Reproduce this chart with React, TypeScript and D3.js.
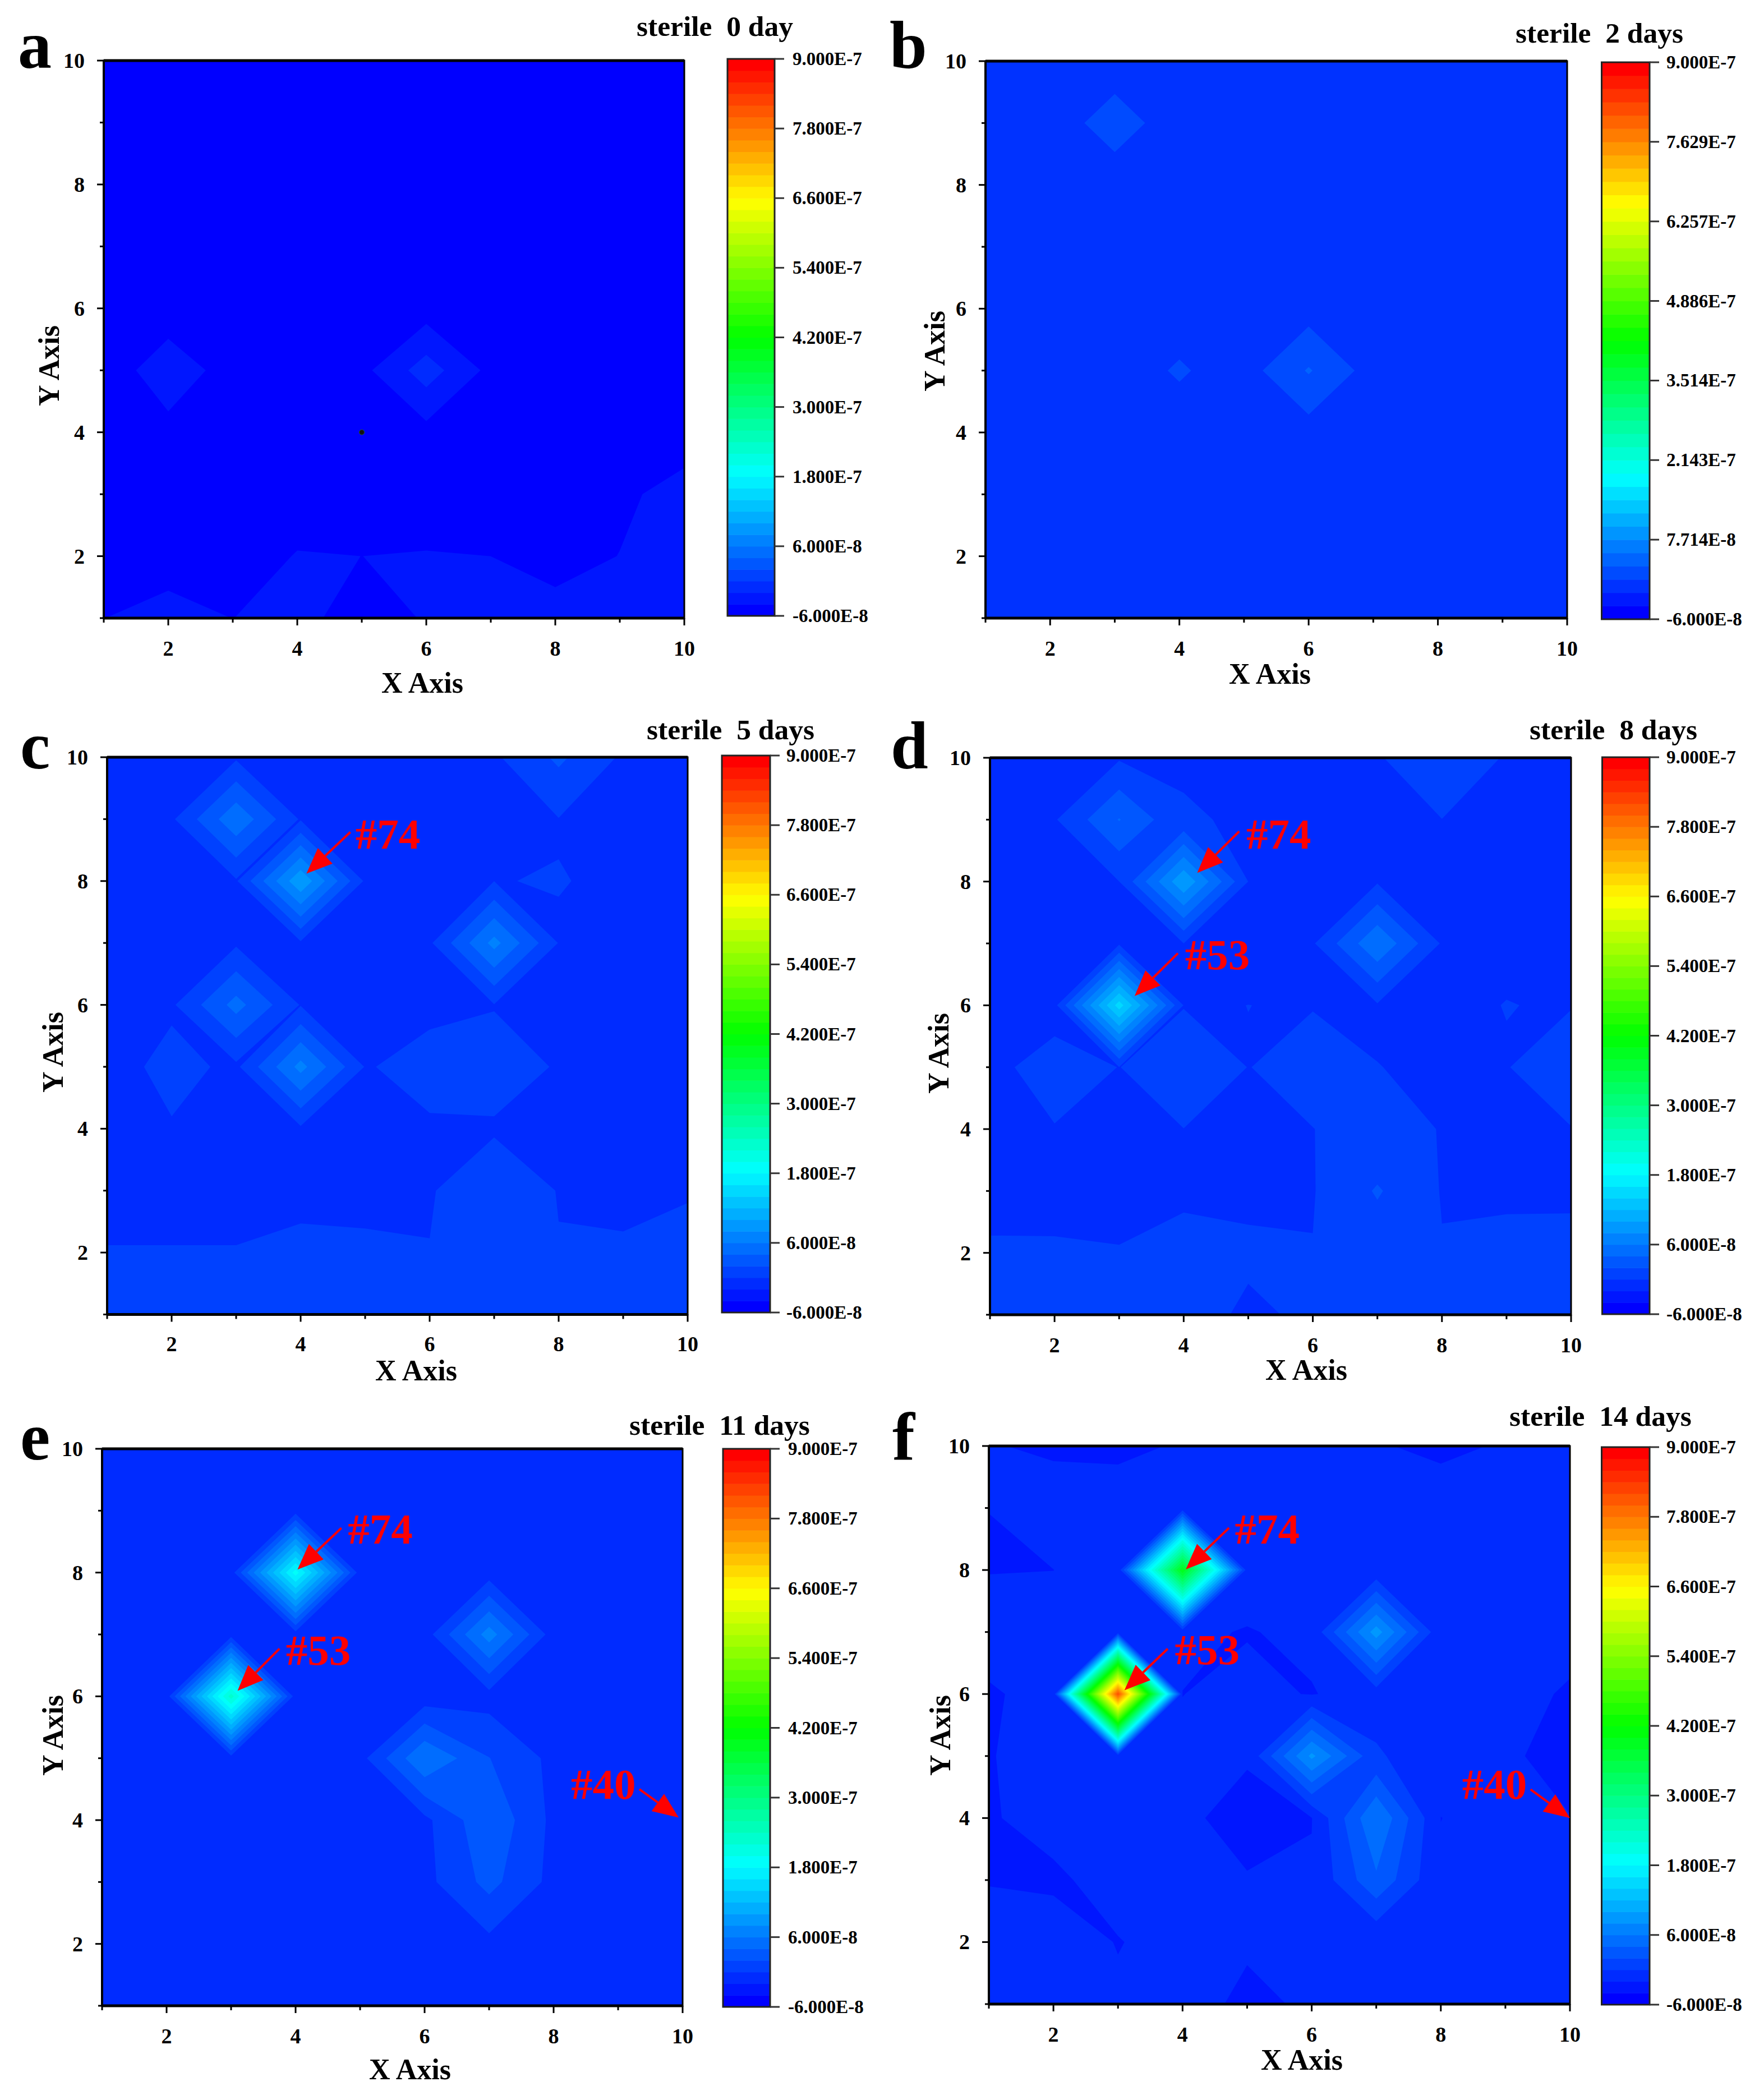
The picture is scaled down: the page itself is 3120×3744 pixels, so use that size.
import React from "react";
import * as d3 from "d3";

// ---------- data: grids in units of 1E-8, rows from y=10 down to y=1, columns x=1..10 ----------
const gridA = [
  [-4.5,-4.5,-4.5,-4.5,-4.5,-4.5,-4.5,-4.5,-4.5,-4.5],
  [-4.5,-4.5,-4.5,-4.5,-4.5,-4.5,-4.5,-4.5,-4.5,-4.5],
  [-4.5,-4.5,-4.5,-4.5,-4.5,-4.5,-4.5,-4.5,-4.5,-4.5],
  [-4.5,-4.5,-4.5,-4.5,-4.5,-4.5,-4.5,-4.5,-4.5,-4.5],
  [-4.5,-4.59,-4.5,-4.5,-4.5,-5,-4.5,-4.5,-4.5,-4.5],
  [-4.61,-3.39,-4.44,-4.5,-4.57,-1,-4.57,-4.5,-4.5,-4.5],
  [-4.5,-4.31,-4.5,-4.5,-4.5,-4.66,-4.5,-4.5,-4.5,-4.5],
  [-4.5,-4.5,-4.5,-4.5,-4.5,-4.5,-4.5,-4.5,-4.2,-3.63],
  [-4.5,-4.5,-4.5,-3.95,-4.001,-3.95,-4.001,-4.4,-3.98,-3.5],
  [-4.01,-3.6,-4.01,-3.6,-4.6,-3.9,-3.6,-3.6,-3.6,-3.5],
];
const gridB = [
  [-.15,-.15,-.15,-.15,-.15,-.15,-.15,-.15,-.15,-.15],
  [-.15,-.15,1.75,-.15,-.15,-.15,-.15,-.15,-.15,-.15],
  [-.15,-.15,-.15,-.15,-.15,-.15,-.15,-.15,-.15,-.15],
  [-.15,-.15,-.15,-.15,-.15,-.15,-.15,-.15,-.15,-.15],
  [-.15,-.15,-.15,-.15,-.15,-.15,-.15,-.15,-.15,-.15],
  [-.15,-.15,-.15,1.08,-.15,3.35,-.15,-.15,-.15,-.15],
  [-.15,-.15,-.15,-.15,-.15,-.15,-.15,-.15,-.15,-.15],
  [-.15,-.15,-.15,-.15,-.15,-.15,-.15,-.15,-.15,-.15],
  [-.15,-.15,-.15,-.15,-.15,-.15,-.15,-.15,-.15,-.15],
  [-.15,-.15,-.15,-.15,-.15,-.15,-.15,-.15,-.15,-.15],
];
const gridC = [
  [-.3,-.3,-.3,-.3,-.3,-.3,-.3,2.4,-.3,-.3],
  [-.3,-.3,5.6,-.2,-.3,-.3,-.3,-.05,-.3,-.3],
  [-.3,-.3,-.2,9.8,-.3,-.3,-.015,.027,-.11,-.3],
  [-.3,-.3,-.3,-.3,-.3,-.3,6.7,-.08,-.3,-.3],
  [-.3,-.3,4.75,-.1,-.02,-.33,-.07,-.3,-.3,-.3],
  [-.8,.6,-.4,6.7,-.1,.5,.6,-.1,-.3,-.3],
  [-.3,-.15,-.3,-.3,-.3,-.17,-.15,-.3,-.3,-.3],
  [-.3,-.3,-.3,-.3,-.3,-.1,.92,-.05,-.3,-.05],
  [.04,.04,.04,.266,.19,.03,.8,.05,.155,.2],
  [.7,.7,.7,.7,.7,.7,.7,.7,.7,.7],
];
const gridD = [
  [-.2,-.2,-.2,-.3,-.2,-.2,-.09,.8,-.09,-.2],
  [-.2,-.17,4.1,.23,-.28,-.2,-.2,-.01,-.2,-.2],
  [-.2,-.2,-.01,9.8,-.01,-.2,-.2,-.2,-.2,-.2],
  [-.2,-.2,-.3,-.01,-.2,-.2,5.8,-.2,-.2,-.2],
  [-.2,-.6,15,-.05,.002,-.033,-.2,-.2,.02,-.08],
  [-.37,.6,-.02,.8,-.016,.3,.02,-.2,-.06,1],
  [-.2,-.06,-.2,-.01,-.2,-.01,.3,-.03,-.2,-.05],
  [-.3,-.3,-.3,-.3,-.3,-.1,2.2,-.1,-.3,-.3],
  [.117,.11,.045,.56,.25,.047,.8,.09,.5,.53],
  [.7,.7,.7,.64,-.25,.25,.7,.7,.7,.7],
];
const gridE = [
  [-1,-1,-1,-1,-1,-1,-1,-1,-1,-1],
  [-1,-1,-1,-1,-1,-1,-1,-1,-1,-1],
  [-1,-1,-1,19,-1,-1,-1,-1,-1,-1],
  [-1,-1,-1,-1,-1,-1,7,-1,-1,-1],
  [-1,-1,23,-1,-1,-1.14,-.8,-1,-1,-1],
  [-1,-1,-1,-1,-.7,6,2.05,-.51,-1,-1],
  [-1,-1,-1,-1,-1,-.5,3.67,-.5,-1,-1],
  [-1,-1,-1,-1,-1,-.6,2.65,-.6,-1,-1],
  [-1,-1,-1,-1,-1,-1,-.55,-1,-1,-1],
  [-1,-1,-1,-1,-1,-1,-1,-1,-1,-1],
];
const gridF = [
  [-1.95,-2.13,-2.17,-1.93,-1.6,-1.6,-1.94,-2.16,-1.93,-1.95],
  [-1.997,-1.6,-1.6,-1.6,-1.6,-1.6,-1.6,-1.6,-1.6,-1.6],
  [-2.03,-2.005,-1.6,40,-1,-1.6,-1.6,-1.6,-1.6,-1.6],
  [-1.6,-1.6,-1.6,-1.67,-2.1,-1.6,9,-1.6,-1.6,-1.7],
  [-2.1,-1.7,82,-2.02,-1.5,-2.1,-1.1,-1.6,-1.7,-2.1],
  [-2.05,-1.6,-1.6,-1.6,-1.79,8.5,.3,-1.6,-1.87,-2.3],
  [-2.1,-1.6,-1.6,-1.6,-2.74,-2.05,6,-2.01,-1.6,-1.98],
  [-2.05,-2.2,-1.55,-1.6,-1.87,-1.85,3.65,-1.85,-1.6,-1.6],
  [-1.55,-1.4,-2.05,-1.55,-1.6,-1.6,-1.85,-1.6,-1.6,-1.6],
  [-1.6,-1.6,-1.8,-.74,-2.68,-1.55,-1.6,-1.6,-1.6,-1.6],
];

const titles = ["sterile  0 day", "sterile  2 days", "sterile  5 days", "sterile  8 days", "sterile  11 days", "sterile  14 days"];
const letters = ["a", "b", "c", "d", "e", "f"];
const grids = [gridA, gridB, gridC, gridD, gridE, gridF];

const scaleMin = -6;
const scaleMax = 90;
const bandCounts = [48, 42, 48, 48, 48, 48];
const barLabelsDefault = ["-6.000E-8", "6.000E-8", "1.800E-7", "3.000E-7", "4.200E-7", "5.400E-7", "6.600E-7", "7.800E-7", "9.000E-7"];
const barValuesDefault = [-6, 6, 18, 30, 42, 54, 66, 78, 90];
const barLabelsB = ["-6.000E-8", "7.714E-8", "2.143E-7", "3.514E-7", "4.886E-7", "6.257E-7", "7.629E-7", "9.000E-7"];
const barValuesB = [-6, 7.714, 21.43, 35.14, 48.86, 62.57, 76.29, 90];

// annotations in axis coordinates: label, tail, tip, label anchor
const notesC = [{ t: "#74", tail: [4.77, 8.79], tip: [4.09, 8.12], at: [4.85, 8.52] }];
const notesD = [
  { t: "#74", tail: [4.86, 8.81], tip: [4.21, 8.14], at: [4.97, 8.53] },
  { t: "#53", tail: [3.91, 6.84], tip: [3.24, 6.15], at: [4.02, 6.58] },
];
const notesE = [
  { t: "#74", tail: [4.71, 8.72], tip: [4.03, 8.05], at: [4.81, 8.47] },
  { t: "#53", tail: [3.75, 6.77], tip: [3.1, 6.09], at: [3.85, 6.51] },
  { t: "#40", tail: [9.33, 4.5], tip: [9.94, 4.04], at: [8.27, 4.34] },
];
const notesF = [
  { t: "#74", tail: [4.72, 8.68], tip: [4.05, 8.01], at: [4.81, 8.43] },
  { t: "#53", tail: [3.77, 6.73], tip: [3.1, 6.06], at: [3.88, 6.48] },
  { t: "#40", tail: [9.39, 4.46], tip: [10, 4.0], at: [8.33, 4.31] },
];
const notes = [[], [], notesC, notesD, notesE, notesF];
const blackDots = [[[5, 4]], [], [], [], [], []];

// ---------- layout (pixels) ----------
const layouts = [
  { l: 185, r: 1220, t: 108, b: 1102, bl: 1297, br: 1381, bt: 105, bb: 1098, lx: 1413, tx: 1135, ty: 64, ax: 32, ay: 121, xl: 753, xy: 1235, yx: 105, yc: 652, tickY: 1169 },
  { l: 1757, r: 2794, t: 109, b: 1102, bl: 2855.5, br: 2941, bt: 111, bb: 1104, lx: 2971, tx: 2702, ty: 76, ax: 1586, ay: 121, xl: 2264, xy: 1219, yx: 1684, yc: 626, tickY: 1169 },
  { l: 191, r: 1226, t: 1350, b: 2343.5, bl: 1287, br: 1373, bt: 1347, bb: 2340, lx: 1402, tx: 1153, ty: 1318, ax: 36, ay: 1370, xl: 742, xy: 2461, yx: 112, yc: 1876, tickY: 2409 },
  { l: 1765, r: 2801, t: 1351, b: 2344, bl: 2856.5, br: 2941, bt: 1350, bb: 2343, lx: 2971, tx: 2727, ty: 1318, ax: 1588, ay: 1370, xl: 2329, xy: 2460, yx: 1691, yc: 1878, tickY: 2411 },
  { l: 182, r: 1217, t: 2583, b: 3576, bl: 1289, br: 1373, bt: 2583, bb: 3578, lx: 1405, tx: 1122, ty: 2558, ax: 36, ay: 2602, xl: 731, xy: 3707, yx: 112, yc: 3094, tickY: 3643 },
  { l: 1763, r: 2799, t: 2578, b: 3573, bl: 2855.5, br: 2941, bt: 2580, bb: 3574, lx: 2971, tx: 2691, ty: 2542, ax: 1591, ay: 2602, xl: 2321, xy: 3690, yx: 1694, yc: 3094, tickY: 3640 },
];

const serif = "'Liberation Serif', 'Times New Roman', serif";
const majorTicks = [2, 4, 6, 8, 10];
const minorTicks = [1, 3, 5, 7, 9];

const colorAt = d3.scaleLinear<string>()
  .domain([0, 0.25, 0.5, 0.75, 1])
  .range(["#0000ff", "#00ffff", "#00ff00", "#ffff00", "#ff0000"])
  .interpolate(d3.interpolateRgb);

function arrowHead(tail: number[], tip: number[], len: number, half: number) {
  const dx = tip[0] - tail[0];
  const dy = tip[1] - tail[1];
  const d = Math.hypot(dx, dy);
  const ux = dx / d, uy = dy / d;
  const bx = tip[0] - ux * len, by = tip[1] - uy * len;
  return {
    base: [bx, by],
    points: `${tip[0]},${tip[1]} ${bx - uy * half},${by + ux * half} ${bx + uy * half},${by - ux * half}`,
  };
}

function Panel({ i }: { i: number }) {
  const L = layouts[i];
  const n = bandCounts[i];
  const X = d3.scaleLinear().domain([1, 10]).range([L.l, L.r]);
  const Y = d3.scaleLinear().domain([1, 10]).range([L.b, L.t]);
  const B = d3.scaleLinear().domain([scaleMin, scaleMax]).range([L.bb, L.bt]);
  const step = (scaleMax - scaleMin) / n;
  const bands = d3.range(n);
  const flat = grids[i].slice().reverse().flat();
  const thresholds = bands.slice(1).map((k) => scaleMin + k * step);
  const contours = d3.contours().size([10, 10]).smooth(true).thresholds(thresholds)(flat);
  const proj = d3.geoTransform({
    point(x: number, y: number) {
      (this as any).stream.point(X(x + 0.5), Y(y + 0.5));
    },
  });
  const path = d3.geoPath(proj);
  const color = (k: number) => colorAt(k / (n - 1));
  const barValues = i === 1 ? barValuesB : barValuesDefault;
  const barLabels = i === 1 ? barLabelsB : barLabelsDefault;
  const clipId = `clip-${i}`;
  const tickFont = 38;
  return (
    <g>
      <defs>
        <clipPath id={clipId}>
          <rect x={L.l} y={L.t} width={L.r - L.l} height={L.b - L.t} />
        </clipPath>
      </defs>
      <g clipPath={`url(#${clipId})`}>
        <rect x={L.l} y={L.t} width={L.r - L.l} height={L.b - L.t} fill={color(0)} />
        {contours.map((c, k) =>
          c.coordinates.length ? <path key={k} d={path(c as any) || ""} fill={color(k + 1)} stroke="none" /> : null
        )}
      </g>
      {blackDots[i].map((p, k) => (
        <circle key={k} cx={X(p[0])} cy={Y(p[1])} r={4.5} fill="#111" stroke="#2a5a2a" strokeWidth={1} />
      ))}
      <rect x={L.l} y={L.t} width={L.r - L.l} height={L.b - L.t} fill="none" stroke="#000" strokeWidth={3} />
      <line x1={L.l} x2={L.r} y1={L.b} y2={L.b} stroke="#000" strokeWidth={5} />
      <line x1={L.l} x2={L.r} y1={L.t} y2={L.t} stroke="#000" strokeWidth={5} />
      <line x1={L.l} x2={L.l} y1={L.t} y2={L.b} stroke="#000" strokeWidth={4} />
      {majorTicks.map((v) => (
        <g key={v} fontFamily={serif} fontWeight="bold" fontSize={tickFont} fill="#000">
          <line x1={X(v)} x2={X(v)} y1={L.b} y2={L.b + 13} stroke="#000" strokeWidth={3} />
          <line x1={L.l} x2={L.l - 12} y1={Y(v)} y2={Y(v)} stroke="#000" strokeWidth={3} />
          <text x={X(v)} y={L.tickY} textAnchor="middle">{v}</text>
          <text x={L.l - 34} y={Y(v) + 13} textAnchor="end">{v}</text>
        </g>
      ))}
      {minorTicks.map((v) => (
        <g key={v}>
          <line x1={X(v)} x2={X(v)} y1={L.b} y2={L.b + 8} stroke="#000" strokeWidth={3} />
          <line x1={L.l} x2={L.l - 7} y1={Y(v)} y2={Y(v)} stroke="#000" strokeWidth={3} />
        </g>
      ))}
      <text x={L.xl} y={L.xy} textAnchor="middle" fontFamily={serif} fontWeight="bold" fontSize={52} fill="#000">X Axis</text>
      <text transform={`translate(${L.yx},${L.yc}) rotate(-90)`} textAnchor="middle" fontFamily={serif} fontWeight="bold" fontSize={52} fill="#000">Y Axis</text>
      <text x={L.tx} y={L.ty} fontFamily={serif} fontWeight="bold" fontSize={51.5} fill="#000" style={{ whiteSpace: "pre" }}>{titles[i]}</text>
      <text x={L.ax} y={L.ay} fontFamily={serif} fontWeight="bold" fontSize={120} fill="#000">{letters[i]}</text>

      {/* colour bar */}
      {bands.map((k) => (
        <rect key={k} x={L.bl} width={L.br - L.bl} y={B(scaleMin + (k + 1) * step)} height={B(scaleMin + k * step) - B(scaleMin + (k + 1) * step) + 0.6} fill={color(k)} />
      ))}
      <rect x={L.bl} y={L.bt} width={L.br - L.bl} height={L.bb - L.bt} fill="none" stroke="#222" strokeWidth={3} />
      {barValues.map((v, k) => (
        <g key={k}>
          <line x1={L.br} x2={L.br + 17} y1={B(v)} y2={B(v)} stroke="#333" strokeWidth={3} />
          <text x={L.lx} y={B(v) + 11} fontFamily={serif} fontWeight="bold" fontSize={33} fill="#000">{barLabels[k]}</text>
        </g>
      ))}

      {/* annotations */}
      {notes[i].map((a: any) => {
        const tail = [X(a.tail[0]), Y(a.tail[1])];
        const tip = [X(a.tip[0]), Y(a.tip[1])];
        const head = arrowHead(tail, tip, 46, 19);
        return (
          <g key={a.t}>
            <line x1={tail[0]} y1={tail[1]} x2={head.base[0]} y2={head.base[1]} stroke="#f00" strokeWidth={4} />
            <polygon points={head.points} fill="#f00" />
            <text x={X(a.at[0])} y={Y(a.at[1])} fontFamily={serif} fontWeight="bold" fontSize={77} fill="#f00">{a.t}</text>
          </g>
        );
      })}
    </g>
  );
}

export default function App() {
  return (
    <svg width={3120} height={3744} viewBox="0 0 3120 3744" style={{ position: "absolute", left: 0, top: 0, background: "#fff" }}>
      <rect width={3120} height={3744} fill="#fff" />
      {letters.map((_, i) => (
        <Panel key={i} i={i} />
      ))}
    </svg>
  );
}
